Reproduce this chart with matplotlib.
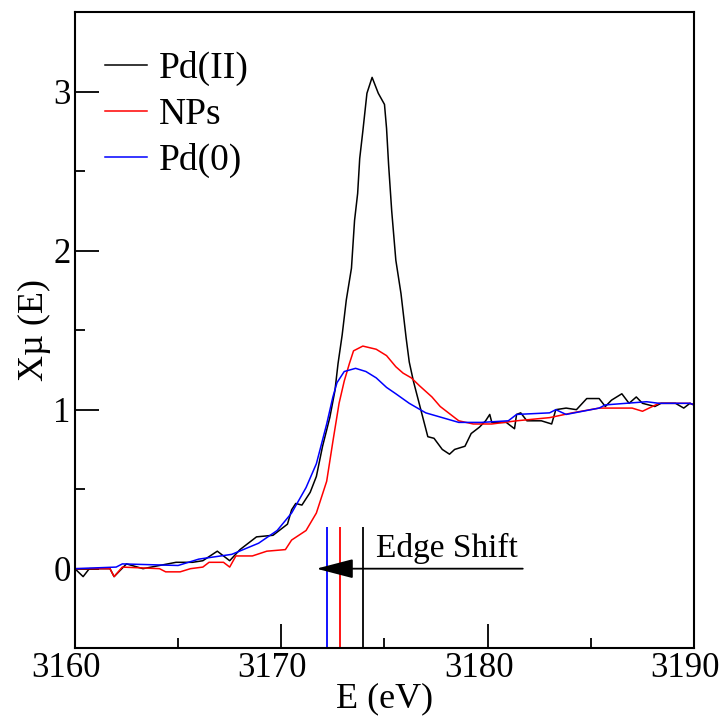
import numpy as np
import matplotlib
matplotlib.use('Agg')
import matplotlib.pyplot as plt
import matplotlib.transforms as mtransforms
from matplotlib.ticker import MultipleLocator

plt.rcParams['font.family'] = ['Liberation Serif', 'DejaVu Serif']

# Pd(II) reference
e_pd2 = [3160.0, 3160.4, 3160.7, 3161.7, 3161.9, 3162.5, 3163.3, 3164.1, 3164.9, 3165.7,
         3166.2, 3166.9, 3167.5, 3168.0, 3168.8, 3169.6, 3170.3, 3170.5, 3170.7, 3171.0,
         3171.4, 3171.7, 3172.0, 3172.35, 3172.6, 3172.75, 3172.95, 3173.15, 3173.4, 3173.55,
         3173.7, 3173.8, 3173.95, 3174.15, 3174.4, 3174.7, 3175.0, 3175.1, 3175.2, 3175.35,
         3175.55, 3175.8, 3176.05, 3176.2, 3176.4, 3176.7, 3176.9, 3177.1, 3177.4, 3177.8,
         3178.15, 3178.4, 3178.9, 3179.2, 3179.6, 3179.9, 3180.1, 3180.2, 3180.6, 3180.9,
         3181.3, 3181.4, 3181.6, 3181.9, 3182.6, 3183.1, 3183.3, 3183.8, 3184.3, 3184.8,
         3185.4, 3185.7, 3186.0, 3186.5, 3186.85, 3187.2, 3187.5, 3188.1, 3188.4, 3189.1,
         3189.5, 3189.8, 3190.0]
mu_pd2 = [0.0, -0.05, 0.0, 0.0, -0.05, 0.03, 0.0, 0.02, 0.04, 0.04,
          0.05, 0.11, 0.05, 0.12, 0.2, 0.21, 0.28, 0.37, 0.41, 0.40,
          0.48, 0.58, 0.77, 0.95, 1.12, 1.29, 1.47, 1.69, 1.89, 2.19,
          2.36, 2.58, 2.75, 2.99, 3.09, 2.99, 2.92, 2.77, 2.54, 2.25,
          1.94, 1.73, 1.45, 1.30, 1.18, 1.03, 0.93, 0.83, 0.82, 0.75,
          0.72, 0.75, 0.77, 0.85, 0.89, 0.93, 0.97, 0.92, 0.92, 0.92,
          0.88, 0.97, 0.98, 0.93, 0.93, 0.91, 1.00, 1.01, 1.00, 1.07,
          1.07, 1.02, 1.06, 1.10, 1.04, 1.08, 1.04, 1.02, 1.04, 1.04,
          1.01, 1.04, 1.03]

# nanoparticles
e_nps = [3160.0, 3161.7, 3161.9, 3162.3, 3164.1, 3164.4, 3165.1, 3165.6, 3166.2, 3166.5,
         3167.2, 3167.5, 3167.8, 3168.6, 3169.3, 3170.2, 3170.5, 3171.2, 3171.7, 3172.2,
         3172.5, 3172.8, 3173.05, 3173.3, 3173.5, 3173.95, 3174.6, 3175.1, 3175.55, 3175.9,
         3176.3, 3176.7, 3177.3, 3177.7, 3178.1, 3178.6, 3179.3, 3180.2, 3181.4, 3183.0,
         3184.1, 3185.4, 3187.0, 3187.5, 3188.3, 3189.8, 3190.0]
mu_nps = [0.0, 0.0, -0.05, 0.01, 0.0, -0.02, -0.02, 0.0, 0.01, 0.04,
          0.04, 0.01, 0.08, 0.08, 0.11, 0.12, 0.18, 0.24, 0.35, 0.55,
          0.8, 1.04, 1.18, 1.29, 1.37, 1.40, 1.38, 1.34, 1.27, 1.23,
          1.20, 1.15, 1.08, 1.02, 0.98, 0.93, 0.91, 0.91, 0.93, 0.95,
          0.98, 1.01, 1.01, 0.99, 1.04, 1.04, 1.03]

# Pd(0) reference
e_pd0 = [3160.0, 3162.0, 3162.3, 3165.0, 3166.0, 3167.6, 3168.9, 3169.8, 3170.5, 3171.2,
         3171.7, 3172.2, 3172.5, 3172.7, 3173.05, 3173.6, 3174.1, 3174.6, 3175.1, 3175.55,
         3176.2, 3177.0, 3177.8, 3178.6, 3179.7, 3181.0, 3181.4, 3183.0, 3183.3, 3183.8,
         3185.4, 3185.7, 3187.7, 3188.3, 3189.8, 3190.0]
mu_pd0 = [0.0, 0.01, 0.03, 0.02, 0.06, 0.09, 0.16, 0.24, 0.35, 0.51,
          0.66, 0.91, 1.08, 1.17, 1.24, 1.26, 1.24, 1.20, 1.14, 1.10,
          1.04, 0.98, 0.95, 0.92, 0.92, 0.93, 0.97, 0.98, 1.00, 0.97,
          1.01, 1.03, 1.05, 1.04, 1.04, 1.03]

# edge positions: Pd(II), NPs, Pd(0)
edge_e = [3173.95, 3172.85, 3172.2]
edge_colors = ['black', 'red', 'blue']

fig = plt.figure(figsize=(7.2, 7.17), dpi=100)
ax = fig.add_axes([0.104, 0.096, 0.86, 0.887])

ax.plot(e_pd2, mu_pd2, color='black', lw=1.1, label='Pd(II)')
ax.plot(e_nps, mu_nps, color='red', lw=1.1, label='NPs')
ax.plot(e_pd0, mu_pd0, color='blue', lw=1.1, label='Pd(0)')

ax.vlines(edge_e, -0.5, 0.26, colors=edge_colors, lw=1.3)
ax.annotate('', xy=(3171.7, 0.0), xytext=(3181.7, 0.0),
            arrowprops=dict(arrowstyle='-|>,head_length=2.3,head_width=0.6',
                            color='black', lw=1.3, shrinkA=0, shrinkB=0))
ax.text(3174.6, 0.13, 'Edge Shift', fontsize=24, va='center', ha='left')

ax.set_xlim(3160, 3190)
ax.set_ylim(-0.5, 3.5)
ax.xaxis.set_major_locator(MultipleLocator(10))
ax.xaxis.set_minor_locator(MultipleLocator(5))
ax.yaxis.set_major_locator(MultipleLocator(1))
ax.yaxis.set_minor_locator(MultipleLocator(0.5))
ax.tick_params(which='major', direction='in', length=17, width=1.3, labelsize=25, pad=3)
ax.tick_params(which='minor', direction='in', length=7, width=1.3)
for s in ax.spines.values():
    s.set_linewidth(1.5)

# x tick labels sit a little left of their ticks in the original
shift = mtransforms.ScaledTranslation(-9 / 100, 0, fig.dpi_scale_trans)
for lbl in ax.get_xticklabels():
    lbl.set_transform(lbl.get_transform() + shift)

ax.set_xlabel('E (eV)', fontsize=26, labelpad=-2)
ax.set_ylabel('Xµ (E)', fontsize=26, labelpad=2)

ax.legend(loc='upper left', bbox_to_anchor=(0.007, 0.98), frameon=False, fontsize=27,
          handlelength=1.1, handletextpad=0.32, labelspacing=0.3, borderpad=0.2)

fig.savefig('out.png', dpi=100)
